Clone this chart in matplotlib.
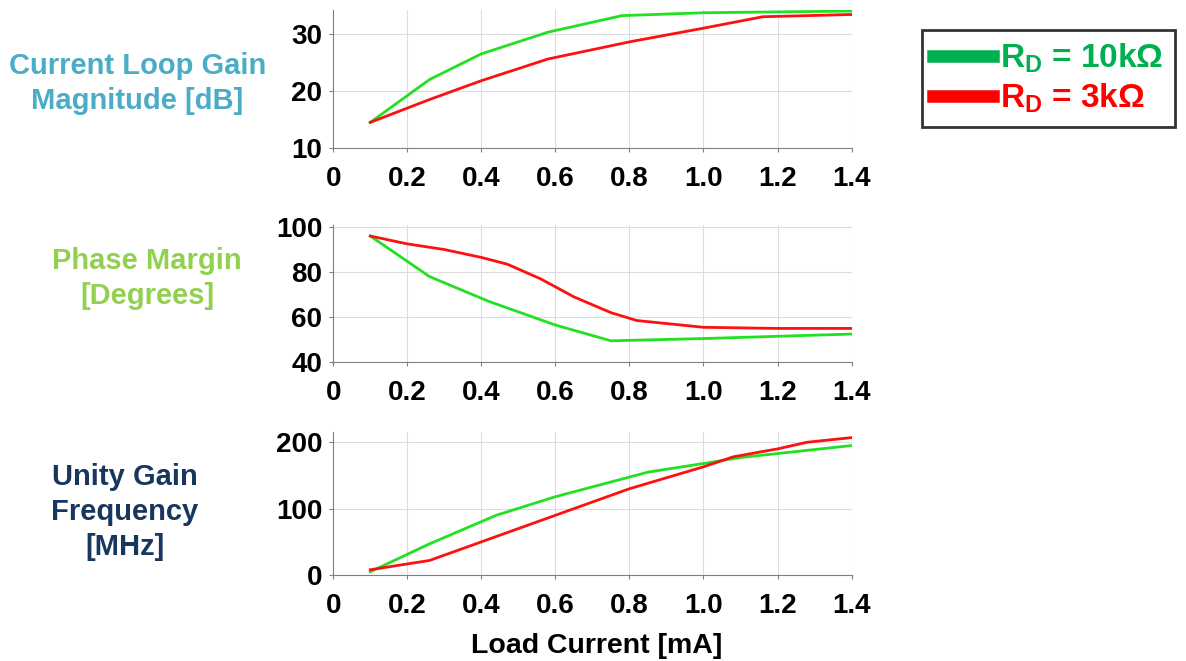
import matplotlib
matplotlib.use("Agg")
import matplotlib.pyplot as plt
from matplotlib.lines import Line2D

plt.rcParams['font.family'] = ['Liberation Sans', 'DejaVu Sans']
plt.rcParams['font.weight'] = 'bold'
plt.rcParams['mathtext.default'] = 'regular'

# current loop gain magnitude [dB]
gain_x_10k = [0.1, 0.26, 0.4, 0.58, 0.78, 1.0, 1.4]
gain_y_10k = [14.5, 22.0, 26.5, 30.3, 33.2, 33.7, 34.0]
gain_x_3k = [0.1, 0.26, 0.4, 0.58, 0.8, 1.0, 1.16, 1.4]
gain_y_3k = [14.5, 18.5, 21.8, 25.6, 28.6, 31.0, 33.0, 33.4]

# phase margin [deg]
pm_x_10k = [0.1, 0.26, 0.42, 0.6, 0.75, 1.0, 1.4]
pm_y_10k = [96, 78, 67, 56.5, 49.5, 50.5, 52.5]
pm_x_3k = [0.1, 0.2, 0.3, 0.4, 0.47, 0.56, 0.65, 0.75, 0.82, 1.0, 1.2, 1.4]
pm_y_3k = [96, 92.5, 90, 86.5, 83.5, 77, 69, 62, 58.5, 55.5, 55, 55]

# unity gain frequency [MHz]
ugf_x_10k = [0.1, 0.26, 0.44, 0.6, 0.85, 1.0, 1.1, 1.4]
ugf_y_10k = [5, 47, 90, 118, 155, 168, 177, 195]
ugf_x_3k = [0.1, 0.26, 0.4, 0.6, 0.8, 1.0, 1.08, 1.2, 1.28, 1.4]
ugf_y_3k = [8, 22, 50, 90, 130, 163, 178, 190, 200, 207]

xticks = [0, 0.2, 0.4, 0.6, 0.8, 1.0, 1.2, 1.4]
xticklabels = ['0', '0.2', '0.4', '0.6', '0.8', '1.0', '1.2', '1.4']

line_green = '#22e022'
line_red = '#ff1010'

fig = plt.figure(figsize=(11.86, 6.61), dpi=100)

panels = [
    ([0.281, 0.776, 0.437, 0.209], gain_x_10k, gain_y_10k, gain_x_3k, gain_y_3k,
     (10, 34.2), [10, 20, 30], 'Current Loop Gain\nMagnitude [dB]', '#4bacc6', (0.116, 0.874)),
    ([0.281, 0.452, 0.437, 0.208], pm_x_10k, pm_y_10k, pm_x_3k, pm_y_3k,
     (40, 101), [40, 60, 80, 100], 'Phase Margin\n[Degrees]', '#92d050', (0.124, 0.578)),
    ([0.281, 0.130, 0.437, 0.216], ugf_x_10k, ugf_y_10k, ugf_x_3k, ugf_y_3k,
     (0, 215), [0, 100, 200], 'Unity Gain\nFrequency\n[MHz]', '#17375e', (0.105, 0.226)),
]

for pos, xg, yg, xr, yr, ylim, yticks, label, lcolor, lpos in panels:
    ax = fig.add_axes(pos)
    ax.plot(xg, yg, color=line_green, lw=2)
    ax.plot(xr, yr, color=line_red, lw=2)
    ax.set_xlim(0, 1.4)
    ax.set_ylim(*ylim)
    ax.set_xticks(xticks)
    ax.set_xticklabels(xticklabels)
    ax.set_yticks(yticks)
    ax.grid(True, color='#dddddd', lw=0.8)
    ax.set_axisbelow(True)
    for s in ['top', 'right']:
        ax.spines[s].set_visible(False)
    for s in ['left', 'bottom']:
        ax.spines[s].set_color('#808080')
    ax.tick_params(axis='both', labelsize=20, length=3, color='#808080', pad=5)
    ax.tick_params(axis='x', pad=10)
    fig.text(lpos[0], lpos[1], label, color=lcolor, fontsize=21, fontweight='bold',
             ha='center', va='center', linespacing=1.32)

fig.text(0.503, 0.022, 'Load Current [mA]', fontsize=20.5, fontweight='bold',
         ha='center', va='center')

handles = [Line2D([], [], color='#00b050', lw=9),
           Line2D([], [], color='#ff0000', lw=9)]
leg = fig.legend(handles, ['R$_D$ = 10k\u03a9', 'R$_D$ = 3k\u03a9'],
                 loc='upper left', bbox_to_anchor=(0.777, 0.955),
                 frameon=True, fancybox=False, edgecolor='black',
                 prop={'size': 24, 'weight': 'bold'}, handlelength=1.8,
                 handletextpad=0.2, labelspacing=0.2, borderpad=0.35,
                 borderaxespad=0)
leg.get_frame().set_linewidth(2)
for t, c in zip(leg.get_texts(), ['#00b050', '#ff0000']):
    t.set_color(c)

fig.savefig('out.png', dpi=100)
